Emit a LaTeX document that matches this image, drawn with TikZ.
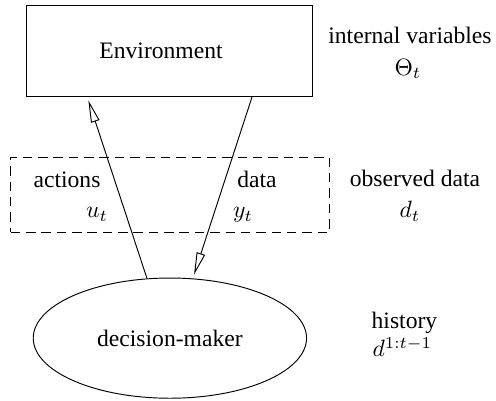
\documentclass[tikz,border=0pt]{standalone}
\usepackage{fontspec}
\setmainfont{Liberation Serif}
\usetikzlibrary{arrows.meta,positioning,shapes}

\tikzset{
    flow/.style={-{Triangle[open,length=0.33cm,width=0.13cm]}, shorten >=0.06cm},
    lbl/.style={anchor=base, inner sep=0pt}
}

\begin{document}
\begin{tikzpicture}[node distance=1cm, auto]

        \useasboundingbox (0,0) rectangle (7.386,-5.971);

        % environment, observed data, decision-maker
        \node (1) [
            rectangle,
            draw,
            minimum width=4.27cm,
            minimum height=1.355cm
        ] at (2.525,-0.753) {\hspace*{-0.254cm}Environment};

        \node (2) [
            rectangle,
            draw,
            dash pattern=on 4pt off 2.5pt,
            minimum width=4.74cm,
            minimum height=1.12cm
        ] at (2.53,-2.90) {};

        \node (3) [
            ellipse,
            draw,
            minimum width=4.07cm,
            minimum height=1.79cm
        ] at (2.53,-5.035) {decision-maker};

        % labels in the dashed box
        \node (4) [lbl] at (0.998,-2.785) {actions};
        \node (5) [lbl] at (1.444,-3.246) {$u_t$};
        \node (6) [lbl] at (3.827,-2.785) {data};
        \node (7) [lbl] at (3.618,-3.246) {$y_t$};

        % labels on the right
        \node (8) [lbl] at (6.105,-0.655) {internal variables};
        \node (9) [lbl] at (6.075,-1.117) {$\Theta_t$};
        \node (10) [lbl] at (6.18,-2.77) {observed data};
        \node (11) [lbl] at (6.105,-3.246) {$d_t$};
        \node (12) [lbl] at (6.023,-4.89) {history};
        \node (13) [lbl] at (5.993,-5.31) {$d^{1:t-1}$};

        \draw[flow] (3.111) to ([xshift=-1.228cm]1.south);
        \draw[flow] ([xshift=1.23cm]1.south) to (3.69);
    \end{tikzpicture}
\end{document}
